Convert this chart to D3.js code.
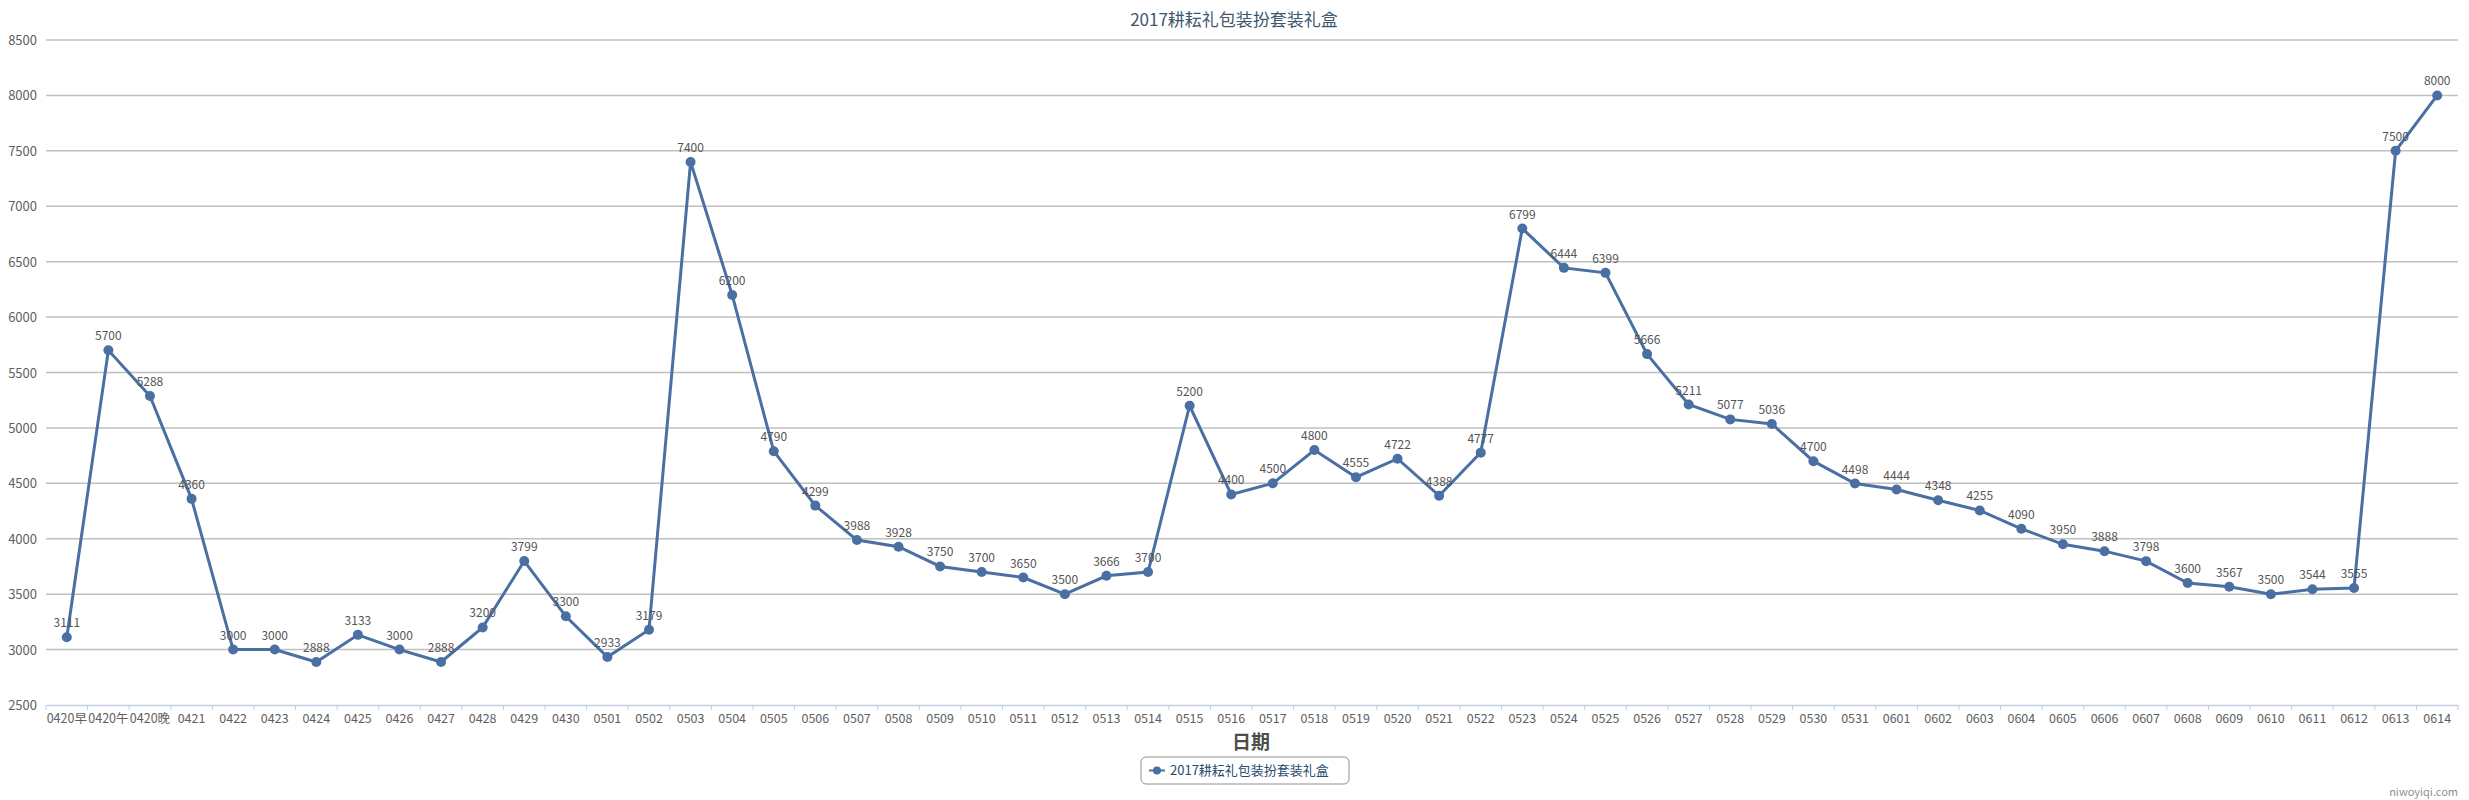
<!DOCTYPE html>
<html><head><meta charset="utf-8">
<script src="https://cdn.jsdelivr.net/npm/d3@7"></script>
<style>body{margin:0;background:#fff}text{font-family:"Noto Sans CJK SC","DejaVu Sans",sans-serif}</style>
</head><body><svg id="c" width="2469" height="800"></svg>
<script>
const title = "2017耕耘礼包装扮套装礼盒";
const seriesName = "2017耕耘礼包装扮套装礼盒";
const categories = ["0420早","0420午","0420晚","0421","0422","0423","0424","0425","0426","0427","0428","0429","0430",
"0501","0502","0503","0504","0505","0506","0507","0508","0509","0510","0511","0512","0513","0514","0515","0516","0517","0518","0519","0520","0521","0522","0523","0524","0525","0526","0527","0528","0529","0530","0531",
"0601","0602","0603","0604","0605","0606","0607","0608","0609","0610","0611","0612","0613","0614"];
const values = [3111,5700,5288,4360,3000,3000,2888,3133,3000,2888,3200,3799,3300,
2933,3179,7400,6200,4790,4299,3988,3928,3750,3700,3650,3500,3666,3700,5200,4400,4500,4800,4555,4722,4388,4777,6799,6444,6399,5666,5211,5077,5036,4700,4498,
4444,4348,4255,4090,3950,3888,3798,3600,3567,3500,3544,3555,7500,8000];
const yTicks = [2500,3000,3500,4000,4500,5000,5500,6000,6500,7000,7500,8000,8500];

const svg = d3.select("#c");
const L=46,R=2458,T=40,B=705;
const x = d3.scaleBand().domain(categories).range([L,R]);
const y = d3.scaleLinear().domain([2500,8500]).range([B,T]);
const col="#4a6fa3";

svg.append("g").selectAll("line").data(yTicks.slice(1)).join("line")
 .attr("x1",L).attr("x2",R).attr("y1",d=>y(d)).attr("y2",d=>y(d)).attr("stroke","#c0c0c0").attr("stroke-width",1.5);
svg.append("g").selectAll("text").data(yTicks).join("text")
 .attr("x",L-9).attr("y",d=>y(d)+5).attr("text-anchor","end").attr("font-size",13).attr("fill","#606060").text(d=>d);

const xa = svg.append("g").attr("transform",`translate(0,${B})`).call(d3.axisBottom(x).tickSize(0).tickPadding(9));
xa.select(".domain").attr("stroke","#C0D0E0").attr("stroke-width",1.5);
xa.selectAll("text").attr("font-size",12.5).attr("fill","#606060").attr("font-family",'"Noto Sans CJK SC",sans-serif');
svg.append("g").selectAll("line").data(categories.concat([null])).join("line")
 .attr("x1",(d,i)=>L+i*x.bandwidth()).attr("x2",(d,i)=>L+i*x.bandwidth()).attr("y1",B).attr("y2",B+5).attr("stroke","#C0D0E0");

const cx = d=>x(d)+x.bandwidth()/2;
svg.append("path").datum(values).attr("fill","none").attr("stroke",col).attr("stroke-width",3)
 .attr("d",d3.line().x((d,i)=>cx(categories[i])).y(d=>y(d)));
svg.append("g").selectAll("circle").data(values).join("circle")
 .attr("cx",(d,i)=>cx(categories[i])).attr("cy",d=>y(d)).attr("r",5).attr("fill",col);
svg.append("g").selectAll("text").data(values).join("text")
 .attr("x",(d,i)=>cx(categories[i])).attr("y",d=>y(d)-10).attr("text-anchor","middle")
 .attr("font-size",12).attr("fill","#555").text(d=>d);

svg.append("text").attr("x",1234).attr("y",26).attr("text-anchor","middle").attr("font-size",17).attr("fill","#3E576F").text(title);
svg.append("text").attr("x",1251).attr("y",749).attr("text-anchor","middle").attr("font-size",19).attr("font-weight","bold").attr("fill","#4d4d4d").text("日期");

const lg=svg.append("g");
lg.append("rect").attr("x",1141).attr("y",757).attr("width",208).attr("height",27).attr("rx",5).attr("fill","#fff").attr("stroke","#909090");
lg.append("line").attr("x1",1149).attr("x2",1165).attr("y1",770.5).attr("y2",770.5).attr("stroke",col).attr("stroke-width",2);
lg.append("circle").attr("cx",1157).attr("cy",770.5).attr("r",4).attr("fill",col);
lg.append("text").attr("x",1170).attr("y",775).attr("font-size",13).attr("fill","#274b6d").text(seriesName);

svg.append("text").attr("x",2458).attr("y",796).attr("text-anchor","end").attr("font-size",11).attr("fill","#909090").text("niwoyiqi.com");
</script></body></html>
